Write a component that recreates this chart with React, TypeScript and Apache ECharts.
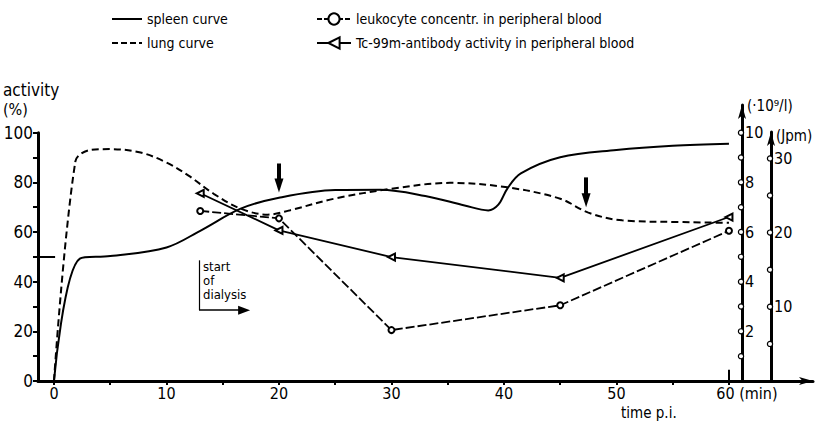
import React, { useEffect, useRef } from "react";
import * as echarts from "echarts";

const FF = "'Liberation Sans Narrow', 'DejaVu Sans Condensed', 'DejaVu Sans', sans-serif";

// time (min), activity (%)
const spleenCurve: number[][] = [
  [0, 0], [2.3, 49.3], [5, 50.3], [10, 53.8], [13, 60.5], [16.6, 69.4], [20, 73.8],
  [25, 76.9], [29, 77], [33, 74.5], [36.5, 70.7], [38.6, 68.7], [39.5, 71], [40.3, 77.5],
  [41.5, 83.6], [45, 90.1], [50, 93], [55, 94.7], [60, 95.5],
];
const lungCurve: number[][] = [
  [0, 0], [1.9, 88.4], [3.2, 93], [5, 93.4], [7.7, 92], [10, 88], [12, 82.6],
  [14.2, 75.4], [16.6, 69.4], [19, 67], [21, 68.8], [25, 73.5], [30, 77.4],
  [35.2, 79.8], [40.3, 78], [45, 73.4], [47.5, 67.8], [50.5, 64.7], [55.9, 64], [60, 63.7],
];
// time (min), leukocytes (10^9/l)
const leukocyte: number[][] = [[13, 6.85], [20, 6.55], [30, 2.05], [45, 3.05], [60, 6.05]];
// time (min), Tc-99m antibody activity (Jpm)
const tcAntibody: number[][] = [[13, 25.3], [20, 20.3], [30, 16.7], [45, 13.9], [60, 22.1]];

const xTicks = [0, 5, 10, 15, 20, 25, 30, 35, 40, 45, 50, 55, 60];
const xLabels = [0, 10, 20, 30, 40, 50, 60];
const yTicks = [0, 10, 20, 30, 40, 50, 60, 70, 80, 90, 100];
const yLabels = [0, 20, 40, 60, 80, 100];
const leukoTicks = [1, 2, 3, 4, 5, 6, 7, 8, 9, 10];
const leukoLabels = [2, 4, 6, 8, 10];
const jpmTicks = [5, 10, 15, 20, 25, 30];
const jpmLabels = [10, 20, 30];

const legendNames = [
  "spleen curve",
  "lung curve",
  "leukocyte concentr. in peripheral blood",
  "Tc-99m-antibody activity in peripheral blood",
];

const X_MIN = -1.42;
const X_MAX = 67.47;

export default function App() {
  const ref = useRef<HTMLDivElement>(null);
  useEffect(() => {
    if (!ref.current) return;
    const chart = echarts.init(ref.current, undefined, { renderer: "svg" });
    const black = "#000";
    const circleRich = {
      c: { width: 4, height: 4, borderRadius: 3, borderWidth: 1.2, borderColor: black, backgroundColor: "#fff" },
      t: { fontSize: 16, fontFamily: FF, color: black, padding: [0, 0, 0, 2] },
    };
    const hiddenX = (gi: number) => ({
      type: "value", gridIndex: gi, min: X_MIN, max: X_MAX, show: false,
    });
    const legendText = { fontSize: 14, fontFamily: FF, color: black };
    chart.setOption({
      animation: false,
      backgroundColor: "#fff",
      textStyle: { fontFamily: FF, color: black },
      grid: [
        { left: 38, right: 11, top: 132.7, bottom: 52 },
        { left: 38, right: 11, top: 105, bottom: 52 },
        { left: 38, right: 11, top: 132, bottom: 52 },
      ],
      legend: [
        {
          left: 111, top: 12, orient: "vertical", padding: 0, itemGap: 10,
          itemWidth: 30, itemHeight: 14, selectedMode: false, textStyle: legendText,
          data: [
            { name: legendNames[0], itemStyle: { opacity: 0 }, lineStyle: { type: "solid", width: 2, color: black } },
            { name: legendNames[1], itemStyle: { opacity: 0 }, lineStyle: { type: [6, 3], width: 2, color: black } },
          ],
        },
        {
          left: 316, top: 12, orient: "vertical", padding: 0, itemGap: 10,
          itemWidth: 34, itemHeight: 14, selectedMode: false, textStyle: legendText,
          data: [
            { name: legendNames[2], lineStyle: { type: [5, 2], width: 2, color: black } },
            { name: legendNames[3], lineStyle: { type: "solid", width: 2, color: black } },
          ],
        },
      ],
      xAxis: [
        {
          type: "value", gridIndex: 0, position: "bottom", min: X_MIN, max: X_MAX,
          axisLine: { show: true, onZero: false, symbol: ["none", "arrow"], symbolSize: [6, 14], lineStyle: { color: black, width: 3 } },
          axisTick: { show: true, customValues: xTicks, length: 4, lineStyle: { color: black, width: 2 } },
          axisLabel: {
            customValues: xLabels, margin: 4, color: black,
            formatter: (v: number) => (v === 60 ? "{p|}{n|60}{u| (min)}" : `{n|${v}}`),
            rich: {
              n: { fontSize: 16, fontFamily: FF, color: black },
              u: { fontSize: 16, fontFamily: FF, color: black },
              p: { width: 36 },
            },
          },
          splitLine: { show: false },
        },
        hiddenX(1),
        hiddenX(2),
      ],
      yAxis: [
        {
          type: "value", gridIndex: 0, position: "left", min: 0, max: 100,
          axisLine: { show: true, onZero: false, lineStyle: { color: black, width: 3 } },
          axisTick: { show: true, customValues: yTicks, length: 5, lineStyle: { color: black, width: 2 } },
          axisLabel: { customValues: yLabels, margin: 5, fontSize: 17, fontFamily: FF, color: black },
          splitLine: { show: false },
        },
        {
          type: "value", gridIndex: 1, position: "right", offset: -71, min: 0, max: 11.116,
          axisLine: { show: true, onZero: false, symbol: ["none", "arrow"], symbolSize: [6, 14], lineStyle: { color: black, width: 3 } },
          axisTick: { show: false },
          axisLabel: {
            customValues: leukoTicks, margin: -3,
            formatter: (v: number) => (leukoLabels.includes(v) ? `{c|}{t|${v}}` : "{c|}"),
            rich: circleRich,
          },
          splitLine: { show: false },
          name: "(·10⁹/l)", nameLocation: "end", nameGap: -1,
          nameTextStyle: { align: "left", verticalAlign: "middle", padding: [0, 0, 0, 5], fontSize: 15, fontFamily: FF, color: black },
        },
        {
          type: "value", gridIndex: 2, position: "right", offset: -42, min: 0, max: 33.56,
          axisLine: { show: true, onZero: false, symbol: ["none", "arrow"], symbolSize: [6, 14], lineStyle: { color: black, width: 3 } },
          axisTick: { show: false },
          axisLabel: {
            customValues: jpmTicks, margin: -3,
            formatter: (v: number) => (jpmLabels.includes(v) ? `{c|}{t|${v}}` : "{c|}"),
            rich: circleRich,
          },
          splitLine: { show: false },
          name: "(Jpm)", nameLocation: "end", nameGap: -4,
          nameTextStyle: { align: "left", verticalAlign: "middle", padding: [0, 0, 0, 5], fontSize: 15, fontFamily: FF, color: black },
        },
      ],
      series: [
        {
          name: legendNames[0], type: "line", xAxisIndex: 0, yAxisIndex: 0,
          data: spleenCurve, smooth: 0.35, symbol: "none",
          lineStyle: { color: black, width: 2 }, itemStyle: { color: black },
          markLine: {
            silent: true, animation: false,
            symbol: ["none", "triangle"], symbolSize: [9, 14],
            lineStyle: { color: black, width: 4, type: "solid" },
            label: { show: false },
            data: [
              [{ coord: [20, 87.6] }, { coord: [20, 78.7] }],
              [{ coord: [47.3, 82] }, { coord: [47.3, 72.8] }],
              [
                { coord: [12.9, 48.6], symbol: "none", lineStyle: { width: 1.2 } },
                { coord: [12.9, 28.5], symbol: "none", lineStyle: { width: 1.2 } },
              ],
              [
                { coord: [12.9, 28.5], symbol: "none", lineStyle: { width: 1.5 } },
                { coord: [16.9, 28.5], symbol: "triangle", symbolSize: [9, 12], lineStyle: { width: 1.5 } },
              ],
              [
                { coord: [X_MIN, 50], symbol: "none", lineStyle: { width: 2 } },
                { coord: [0.1, 50], symbol: "none", lineStyle: { width: 2 } },
              ],
              [
                { coord: [60, 0], symbol: "none", lineStyle: { width: 2 } },
                { coord: [60, 4.5], symbol: "none", lineStyle: { width: 2 } },
              ],
            ],
          },
        },
        {
          name: legendNames[1], type: "line", xAxisIndex: 0, yAxisIndex: 0,
          data: lungCurve, smooth: 0.35, symbol: "none",
          lineStyle: { color: black, width: 2, type: [7, 4] }, itemStyle: { color: black },
        },
        {
          name: legendNames[2], type: "line", xAxisIndex: 1, yAxisIndex: 1,
          data: leukocyte, symbol: "emptyCircle", symbolSize: 6,
          lineStyle: { color: black, width: 1.8, type: [9, 3] },
          itemStyle: { color: black, borderWidth: 1.3 },
        },
        {
          name: legendNames[3], type: "line", xAxisIndex: 2, yAxisIndex: 2,
          data: tcAntibody, symbol: "emptyTriangle", symbolSize: 7, symbolRotate: 90,
          lineStyle: { color: black, width: 1.8, type: "solid" },
          itemStyle: { color: black, borderWidth: 1.3 },
        },
      ],
      graphic: [
        { type: "text", left: 3, top: 81, style: { text: "activity", fontSize: 17, fontFamily: FF, fill: black } },
        { type: "text", left: 3, top: 101, style: { text: "(%)", fontSize: 16, fontFamily: FF, fill: black } },
        { type: "text", left: 203, top: 259, style: { text: "start\nof\ndialysis", fontSize: 13, lineHeight: 14, fontFamily: FF, fill: black } },
        { type: "text", left: 621, top: 405, style: { text: "time p.i.", fontSize: 15, fontFamily: FF, fill: black } },
      ],
    });
    return () => chart.dispose();
  }, []);
  return (
    <div
      ref={ref}
      style={{ position: "fixed", left: 0, top: 0, width: 824, height: 433, background: "#fff" }}
    />
  );
}
